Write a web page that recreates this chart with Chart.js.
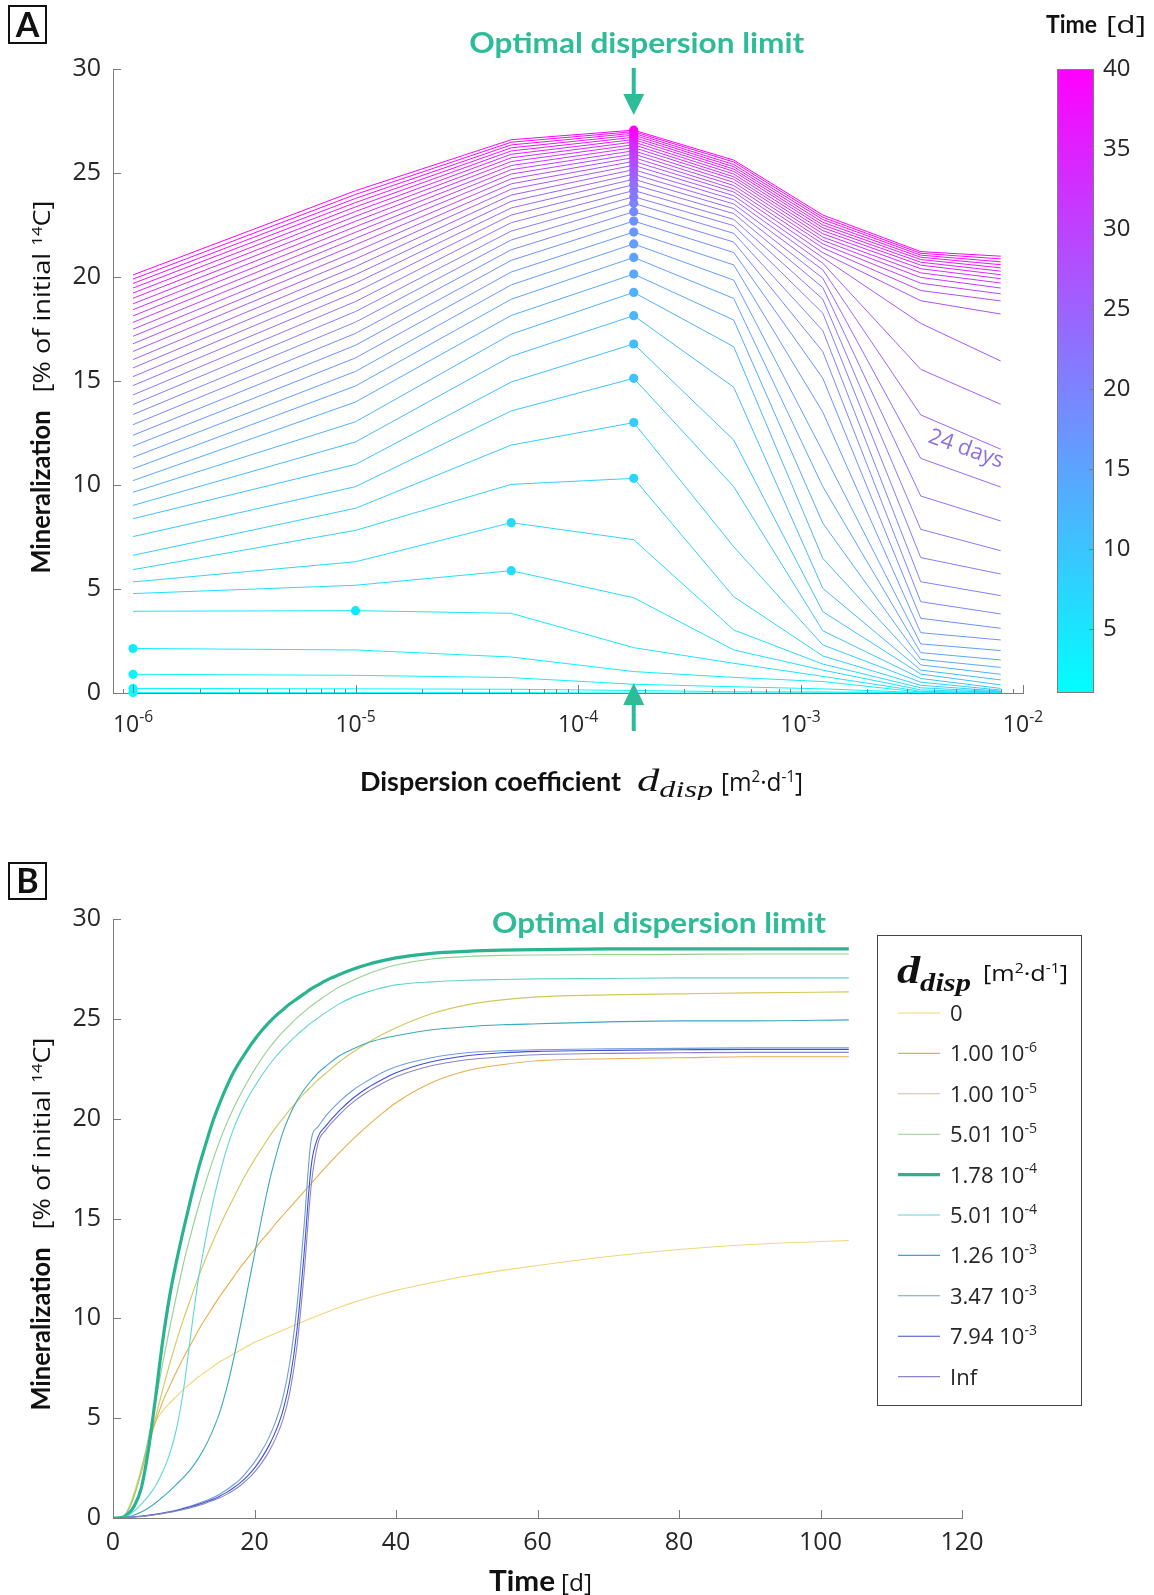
<!DOCTYPE html>
<html>
<head>
<meta charset="utf-8">
<script src="https://cdn.jsdelivr.net/npm/chart.js@4.4.1/dist/chart.umd.min.js"></script>
<style>
html,body{margin:0;padding:0;background:#ffffff;}
#wrap{position:relative;width:1154px;height:1595px;overflow:hidden;background:#fff;}
.box{position:absolute;left:0;width:1154px;}
</style>
</head>
<body>
<div id="wrap">
  <div class="box" style="top:0;height:800px"><canvas id="cA" width="1154" height="800"></canvas></div>
  <div class="box" style="top:800px;height:795px"><canvas id="cB" width="1154" height="795"></canvas></div>
</div>
<script>
// ---------------- DATA ----------------
// Panel A: dispersion coefficients (x) and days (one line per day)
const dispCoef = [1e-6, 1e-5, 5.01e-5, 1.78e-4, 5.01e-4, 1.26e-3, 3.47e-3, 7.94e-3];
const days = [1,2,3,4,5,6,7,8,9,10,11,12,13,14,15,16,17,18,19,20,21,22,23,24,25,26,27,28,29,30,31,32,33,34,35,36,37,38,39,40];
// Mineralization (% of initial 14C) per day, one array per dispersion coefficient
const minA_1e6   = [0.02,0.22,0.9,2.14,3.93,4.78,5.34,5.93,6.62,7.52,8.38,9.02,9.65,10.21,10.78,11.33,11.87,12.39,12.90,13.39,13.87,14.33,14.78,15.21,15.63,16.03,16.42,16.79,17.15,17.49,17.82,18.13,18.43,18.71,18.98,19.23,19.47,19.69,19.90,20.10];
const minA_1e5   = [0.02,0.2,0.85,2.07,3.96,5.18,6.31,7.82,8.88,9.92,10.99,12.07,13.04,13.99,14.76,15.46,16.11,16.72,17.29,17.83,18.34,18.82,19.27,19.70,20.11,20.50,20.87,21.22,21.55,21.86,22.15,22.42,22.68,22.92,23.15,23.37,23.58,23.78,23.97,24.15];
const minA_5e5   = [0.02,0.18,0.74,1.73,3.83,5.88,8.19,10.03,11.92,13.56,14.95,16.19,17.25,18.15,18.93,19.62,20.24,20.80,21.31,21.78,22.21,22.61,22.98,23.32,23.64,23.94,24.22,24.48,24.72,24.95,25.16,25.36,25.55,25.73,25.90,26.06,26.21,26.35,26.48,26.60];
const minA_178e4 = [0.0,0.12,0.42,1.03,2.18,4.58,7.37,10.32,13.0,15.13,16.78,18.14,19.26,20.14,20.94,21.59,22.16,22.69,23.14,23.54,23.86,24.16,24.44,24.70,24.94,25.16,25.37,25.56,25.74,25.91,26.07,26.22,26.36,26.49,26.61,26.72,26.82,26.91,26.99,27.06];
const minA_5e4   = [0.0,0.06,0.3,0.75,1.43,2.07,3.03,4.63,7.03,9.92,12.16,14.7,16.65,17.93,18.97,19.85,20.58,21.18,21.68,22.1,22.47,22.77,23.05,23.29,23.51,23.72,23.91,24.09,24.24,24.4,24.55,24.7,24.82,24.95,25.08,25.19,25.3,25.41,25.53,25.62];
const minA_126e3 = [0.01,0.05,0.2,0.55,0.8,1.1,1.39,1.78,2.31,2.99,3.91,5.03,6.47,8.16,9.92,11.6,13.5,15.13,16.41,17.42,18.26,18.93,19.49,19.94,20.34,20.66,20.93,21.17,21.4,21.59,21.76,21.92,22.08,22.23,22.37,22.5,22.63,22.76,22.87,22.98];
const minA_347e3 = [0,0.01,0.02,0.04,0.08,0.15,0.25,0.37,0.52,0.7,0.91,1.1,1.35,1.62,1.94,2.36,2.9,3.59,4.39,5.35,6.51,7.87,9.47,11.28,13.37,15.56,17.77,18.86,19.35,19.7,19.98,20.2,20.4,20.57,20.71,20.84,20.95,21.05,21.14,21.22];
const minA_794e3 = [0,0,0.01,0.01,0.02,0.04,0.06,0.09,0.14,0.22,0.39,0.63,0.9,1.23,1.59,2.04,2.55,3.11,3.8,4.68,5.72,6.84,8.27,9.9,11.72,13.88,15.96,18.22,18.85,19.19,19.47,19.71,19.92,20.11,20.28,20.44,20.59,20.73,20.87,21.0];
const xMajorTicksA = [1e-6, 1e-5, 1e-4, 1e-3, 1e-2];
const colorbarTicks = [5,10,15,20,25,30,35,40];

// Panel B: time (days) and mineralization curves for each dispersion coefficient
const timeB = [0,1,2,3,4,5,6,7,8,9,10,11,12,13,14,15,16,17,18,19,20,21,22,23,24,25,26,27,28,29,30,32,34,36,38,40,45,50,55,60,70,80,90,104];
const minB_0     = [0,0.02,0.35,1.3,2.5,3.8,4.8,5.35,5.75,6.1,6.45,6.75,7.05,7.3,7.55,7.8,8.0,8.2,8.4,8.6,8.8,8.95,9.1,9.25,9.4,9.55,9.7,9.85,10.0,10.14,10.28,10.55,10.8,11.02,11.22,11.4,11.78,12.12,12.4,12.65,13.1,13.45,13.7,13.9];
const minB_1e6   = [0,0.02,0.3,1.15,2.3,3.6,4.8,5.8,6.6,7.35,8.05,8.7,9.35,9.95,10.5,11.05,11.55,12.05,12.55,13.0,13.45,13.9,14.3,14.75,15.15,15.55,15.95,16.35,16.75,17.15,17.55,18.3,19.0,19.65,20.25,20.8,21.8,22.4,22.7,22.9,23.0,23.05,23.1,23.1];
const minB_1e5   = [0,0.02,0.3,1.15,2.3,3.7,5.0,6.4,7.7,8.9,10.0,11.0,12.0,12.9,13.75,14.55,15.3,16.0,16.7,17.35,17.95,18.5,19.05,19.55,20.0,20.45,20.85,21.25,21.6,21.95,22.25,22.85,23.35,23.8,24.2,24.55,25.25,25.7,25.95,26.1,26.2,26.25,26.3,26.35];
const minB_5e5   = [0,0.02,0.3,1.1,2.4,4.0,5.8,7.7,9.5,11.2,12.8,14.2,15.5,16.7,17.8,18.8,19.7,20.5,21.2,21.85,22.45,23.0,23.5,23.95,24.35,24.7,25.05,25.35,25.65,25.9,26.15,26.6,26.95,27.25,27.5,27.7,28.0,28.12,28.18,28.2,28.22,28.23,28.25,28.25];
const minB_178e4 = [0,0.01,0.15,0.6,1.5,3.4,6.0,8.8,11.1,12.9,14.5,16.0,17.4,18.6,19.75,20.7,21.55,22.3,22.9,23.45,23.95,24.4,24.8,25.15,25.45,25.75,26.0,26.25,26.5,26.7,26.9,27.22,27.5,27.72,27.9,28.05,28.28,28.38,28.44,28.47,28.5,28.5,28.5,28.5];
const minB_5e4   = [0,0.01,0.1,0.35,0.7,1.1,1.6,2.3,3.2,4.5,6.5,9.2,11.8,13.8,15.6,17.1,18.4,19.45,20.3,21.0,21.6,22.15,22.65,23.1,23.5,23.85,24.2,24.5,24.8,25.05,25.3,25.75,26.1,26.35,26.55,26.7,26.85,26.93,26.97,27.0,27.02,27.05,27.05,27.05];
const minB_126e3 = [0,0.01,0.05,0.15,0.3,0.5,0.75,1.05,1.35,1.7,2.05,2.45,2.95,3.55,4.3,5.2,6.4,7.9,9.6,11.4,13.2,15.0,16.7,18.1,19.3,20.2,20.9,21.45,21.9,22.3,22.6,23.15,23.5,23.8,24.0,24.15,24.45,24.6,24.7,24.75,24.85,24.9,24.9,24.95];
const minB_347e3 = [0,0.01,0.03,0.06,0.1,0.14,0.19,0.25,0.32,0.4,0.5,0.6,0.72,0.85,1.0,1.18,1.4,1.65,1.95,2.35,2.8,3.35,4.0,4.85,6.0,7.8,10.6,14.6,18.9,19.6,20.1,20.85,21.45,21.9,22.3,22.6,23.05,23.3,23.4,23.45,23.5,23.52,23.55,23.55];
const minB_794e3 = [0,0.01,0.03,0.05,0.09,0.13,0.18,0.24,0.3,0.38,0.47,0.56,0.67,0.79,0.92,1.08,1.27,1.5,1.77,2.1,2.5,3.0,3.6,4.35,5.35,6.9,9.4,13.2,17.6,19.1,19.6,20.4,21.05,21.55,21.95,22.3,22.85,23.15,23.3,23.37,23.42,23.45,23.47,23.47];
const minB_inf   = [0,0.01,0.02,0.05,0.08,0.12,0.17,0.22,0.28,0.35,0.43,0.52,0.62,0.73,0.86,1.0,1.17,1.38,1.63,1.93,2.3,2.75,3.3,4.0,4.9,6.3,8.6,12.2,16.6,18.8,19.4,20.2,20.85,21.35,21.75,22.1,22.65,22.95,23.1,23.2,23.27,23.3,23.32,23.32];
const legendMantissa = ['0','1.00 10','1.00 10','5.01 10','1.78 10','5.01 10','1.26 10','3.47 10','7.94 10','Inf'];
const legendExponent = ['','-6','-5','-5','-4','-4','-3','-3','-3',''];

// ---------------- STYLE ----------------
const AXIS = '#7c7c7c';
const TXT = '#262626';
const SANS = '"Open Sans", "DejaVu Sans", sans-serif';
const BOLD = 'Lato, "Open Sans", sans-serif';
const SERIF = '"Liberation Serif", "DejaVu Serif", serif';
const TEAL = '#2dbb98';
const colorsB = ['#efd77a','#e8ae4c','#d3c75c','#94cf8c','#29b38f','#5fd5d2','#3ba8bd','#6f9fd8','#4150cf','#8b83cc'];
const widthsB = [1.1,1.1,1.1,1.1,3.2,1.1,1.1,1.1,1.1,1.1];

function coolColor(day){ const f=(day-1)/39; return 'rgb('+Math.round(255*f)+','+Math.round(255*(1-f))+',255)'; }
function fontStr(style,size,family){ return ((style?style+' ':'')+size.toFixed(2)+'px '+family); }
function measureRuns(ctx, runs, size){
  let total=0;
  runs.forEach(r=>{ ctx.font=fontStr(r.style,size*(r.rel||1),r.family); r._w=ctx.measureText(r.text).width; total+=r._w; });
  return total;
}
function drawRuns(ctx, runs, size, x, y, align, color){
  const total=measureRuns(ctx,runs,size);
  let cx = align==='center' ? x-total/2 : (align==='right' ? x-total : x);
  ctx.textAlign='left'; ctx.textBaseline='alphabetic';
  runs.forEach(r=>{ ctx.font=fontStr(r.style,size*(r.rel||1),r.family); ctx.fillStyle=r.color||color||'#111'; ctx.fillText(r.text,cx,y+(r.dy||0)*size); cx+=r._w; });
  return total;
}
function drawScaled(ctx, runs, size, target, x, y, align, color){
  const w=measureRuns(ctx,runs,size);
  const sx=target/w;
  const x0 = align==='center' ? x-target/2 : (align==='right' ? x-target : x);
  ctx.save(); ctx.translate(x0,y); ctx.scale(sx,1);
  drawRuns(ctx,runs,size,0,0,'left',color);
  ctx.restore();
}
function hline(ctx,x1,y1,x2,y2){ ctx.beginPath(); ctx.moveTo(x1,y1); ctx.lineTo(x2,y2); ctx.stroke(); }

function drawYLabel(ctx, cx, cy){
  ctx.save(); ctx.translate(cx, cy); ctx.rotate(-Math.PI/2);
  const r1=[{text:'Mineralization',style:'bold',family:BOLD}];
  const r2=[{text:'[% of initial ',family:SANS},{text:'14',family:SANS,rel:0.62,dy:-0.36},{text:'C]',family:SANS}];
  const w1=163, gap=18, w2=192, start=-(w1+gap+w2)/2;
  drawScaled(ctx,r1,26,w1,start,10,'left','#111');
  drawScaled(ctx,r2,23,w2,start+w1+gap,10,'left','#111');
  ctx.restore();
}
function drawPanelLetter(ctx, letter, x, y, w, h){
  ctx.save(); ctx.strokeStyle='#111'; ctx.lineWidth=2; ctx.strokeRect(x,y,w,h);
  ctx.fillStyle='#111'; ctx.font=fontStr('bold',34,BOLD); ctx.textAlign='center'; ctx.textBaseline='alphabetic';
  ctx.fillText(letter, x+w/2, y+h/2+12); ctx.restore();
}
function unitRuns(){ return [{text:'[m',family:SANS},{text:'2',family:SANS,rel:0.62,dy:-0.38},{text:'\u00b7d',family:SANS},{text:'-1',family:SANS,rel:0.62,dy:-0.38},{text:']',family:SANS}]; }

// ---------------- PANEL A ----------------
const columnsA = [minA_1e6, minA_1e5, minA_5e5, minA_178e4, minA_5e4, minA_126e3, minA_347e3, minA_794e3];
const lineSetsA = days.map((d,i)=>({
  data: dispCoef.map((c,j)=>({x:c, y:columnsA[j][i]})),
  borderColor: coolColor(d), borderWidth: 1, pointRadius: 0, tension: 0, fill: false, order: 41-d
}));
const peakPts=[], peakCols=[];
days.forEach((d,i)=>{ let b=0; for(let j=1;j<columnsA.length;j++){ if(columnsA[j][i]>columnsA[b][i]) b=j; } peakPts.push({x:dispCoef[b], y:columnsA[b][i]}); peakCols.push(coolColor(d)); });
const dotSetA = { data: peakPts, showLine:false, pointRadius:4.6, pointHoverRadius:4.6, pointBackgroundColor:peakCols, pointBorderWidth:0, order:0, clip:false };

const annotA = {
  id:'annotA',
  afterDraw(chart){
    const ctx=chart.ctx, ca=chart.chartArea, xs=chart.scales.x, ys=chart.scales.y;
    ctx.save();
    ctx.strokeStyle=AXIS; ctx.lineWidth=1;
    ys.ticks.forEach(t=>{ const py=Math.round(ys.getPixelForValue(t.value))+0.5; hline(ctx,ca.left,py,ca.left+8,py); });
    for(let k=-7;k<=-2;k++){ for(let m=1;m<=9;m++){ const v=m*Math.pow(10,k); if(v<xs.min*0.999||v>xs.max*1.001) continue; const px=Math.round(xs.getPixelForValue(v))+0.5; hline(ctx,px,ca.bottom,px,ca.bottom-(m===1?8:4)); } }
    xs.ticks.forEach(t=>{ const px=xs.getPixelForValue(t.value); const e=Math.round(Math.log10(t.value));
      drawRuns(ctx,[{text:'10',family:SANS},{text:String(e),family:SANS,rel:0.68,dy:-0.42}],23,px,732,'center',TXT); });
    drawYLabel(ctx,40,387);
    drawScaled(ctx,[{text:'Dispersion coefficient',style:'bold',family:BOLD}],26,261,360,791,'left','#111');
    drawScaled(ctx,[{text:'d',style:'italic',family:SERIF},{text:'disp',style:'italic',family:SERIF,rel:0.72,dy:0.2}],32,76,637,791,'left','#111');
    drawScaled(ctx,unitRuns(),25,82,721,791,'left','#111');
    drawPanelLetter(ctx,'A',9,6,37,37);
    const ax=xs.getPixelForValue(1.78e-4);
    drawScaled(ctx,[{text:'Optimal dispersion limit',style:'bold',family:BOLD}],29,335,ax+3,53,'center',TEAL);
    ctx.fillStyle=TEAL;
    ctx.fillRect(ax-2,68,4,28);
    ctx.beginPath(); ctx.moveTo(ax-10.5,94); ctx.lineTo(ax+10.5,94); ctx.lineTo(ax,115); ctx.closePath(); ctx.fill();
    ctx.fillRect(ax-2,702,4,29);
    ctx.beginPath(); ctx.moveTo(ax,683); ctx.lineTo(ax-10.5,705); ctx.lineTo(ax+10.5,705); ctx.closePath(); ctx.fill();
    ctx.save(); ctx.translate(966,449); ctx.rotate(19.5*Math.PI/180);
    ctx.font=fontStr('',22,SANS); ctx.fillStyle='#8d6fe2'; ctx.textAlign='center'; ctx.textBaseline='middle';
    ctx.fillText('24 days',0,0); ctx.restore();
    const cbL=1057, cbR=1094, cbT=ca.top, cbB=ca.bottom;
    const g=ctx.createLinearGradient(0,cbB,0,cbT); g.addColorStop(0,coolColor(1)); g.addColorStop(1,coolColor(40));
    ctx.fillStyle=g; ctx.fillRect(cbL,cbT,cbR-cbL,cbB-cbT);
    ctx.strokeStyle=AXIS; ctx.lineWidth=1; ctx.strokeRect(cbL+0.5,cbT+0.5,cbR-cbL-1,cbB-cbT-1);
    ctx.font=fontStr('',24,SANS); ctx.fillStyle=TXT; ctx.textAlign='left'; ctx.textBaseline='middle';
    colorbarTicks.forEach(v=>{ const py=Math.round(cbT+(40-v)/39*(cbB-cbT))+0.5; hline(ctx,cbR-5,py,cbR,py); ctx.fillText(String(v),1103,py); });
    drawScaled(ctx,[{text:'Time',style:'bold',family:BOLD}],25,51,1046,33,'left','#111');
    drawScaled(ctx,[{text:'[d]',family:SANS}],23,40,1106,33,'left','#111');
    ctx.restore();
  }
};

new Chart(document.getElementById('cA'), {
  type:'line',
  data:{ datasets: lineSetsA.concat([dotSetA]) },
  options:{
    responsive:false, animation:false, devicePixelRatio:1, events:[],
    layout:{ padding:{ left:0, right:1154-1023, top:69, bottom:0 } },
    plugins:{ legend:{display:false}, tooltip:{enabled:false} },
    scales:{
      x:{ type:'logarithmic', min:Math.pow(10,-6.09), max:1e-2,
          afterBuildTicks:(s)=>{ s.ticks = xMajorTicksA.map(v=>({value:v, major:true})); },
          afterFit:(s)=>{ s.height = 800-693; },
          ticks:{ display:false, autoSkip:false },
          grid:{ display:false, drawTicks:false },
          border:{ display:true, color:AXIS, width:1 } },
      y:{ type:'linear', min:0, max:30,
          afterFit:(s)=>{ s.width = 113; },
          ticks:{ stepSize:5, padding:12, color:TXT, font:{ family:'"Open Sans"', size:25 } },
          grid:{ display:false, drawTicks:false },
          border:{ display:true, color:AXIS, width:1 } }
    }
  },
  plugins:[annotA]
});

// ---------------- PANEL B ----------------
const seriesB = [minB_0, minB_1e6, minB_1e5, minB_5e5, minB_178e4, minB_5e4, minB_126e3, minB_347e3, minB_794e3, minB_inf];
const setsB = seriesB.map((arr,i)=>({
  data: timeB.map((t,k)=>({x:t, y:arr[k]})),
  borderColor: colorsB[i], borderWidth: widthsB[i], pointRadius:0, fill:false,
  cubicInterpolationMode:'monotone', order: 9-i
}));

const annotB = {
  id:'annotB',
  afterDraw(chart){
    const ctx=chart.ctx, ca=chart.chartArea, xs=chart.scales.x, ys=chart.scales.y;
    ctx.save(); ctx.strokeStyle=AXIS; ctx.lineWidth=1;
    ys.ticks.forEach(t=>{ const py=Math.round(ys.getPixelForValue(t.value))+0.5; hline(ctx,ca.left,py,ca.left+8,py); });
    xs.ticks.forEach(t=>{ const px=Math.round(xs.getPixelForValue(t.value))+0.5; hline(ctx,px,ca.bottom,px,ca.bottom-8); });
    drawYLabel(ctx,40,424);
    drawScaled(ctx,[{text:'Time',style:'bold',family:BOLD}],28,66,489,791,'left','#111');
    drawScaled(ctx,[{text:'[d]',family:SANS}],24,31,561,791,'left','#111');
    drawPanelLetter(ctx,'B',9,63,37,36);
    drawScaled(ctx,[{text:'Optimal dispersion limit',style:'bold',family:BOLD}],29,334,659,133,'center',TEAL);
    const lx=877, ly=135, lw=204, lh=470;
    ctx.fillStyle='#fff'; ctx.fillRect(lx,ly,lw,lh);
    ctx.strokeStyle='#444'; ctx.lineWidth=1; ctx.strokeRect(lx+0.5,ly+0.5,lw,lh);
    drawScaled(ctx,[{text:'d',style:'italic bold',family:SERIF},{text:'disp',style:'italic bold',family:SERIF,rel:0.66,dy:0.2}],38,74,897,183,'left','#111');
    drawScaled(ctx,unitRuns(),22,85,983,181,'left','#111');
    for(let i=0;i<10;i++){
      const cy=213+40.4*i;
      ctx.strokeStyle=colorsB[i]; ctx.lineWidth=widthsB[i]; hline(ctx,898,cy,940,cy);
      const runs=[{text:legendMantissa[i],family:SANS}];
      if(legendExponent[i]) runs.push({text:legendExponent[i],family:SANS,rel:0.64,dy:-0.42});
      drawRuns(ctx,runs,22,950,cy+8,'left',TXT);
    }
    ctx.restore();
  }
};

new Chart(document.getElementById('cB'), {
  type:'line',
  data:{ datasets: setsB },
  options:{
    responsive:false, animation:false, devicePixelRatio:1, events:[],
    layout:{ padding:{ left:0, right:1154-962, top:119, bottom:0 } },
    plugins:{ legend:{display:false}, tooltip:{enabled:false} },
    scales:{
      x:{ type:'linear', min:0, max:120,
          afterFit:(s)=>{ s.height = 795-718; },
          ticks:{ stepSize:20, padding:10, color:TXT, font:{ family:'"Open Sans"', size:25 }, maxRotation:0 },
          grid:{ display:false, drawTicks:false },
          border:{ display:true, color:AXIS, width:1 } },
      y:{ type:'linear', min:0, max:30,
          afterFit:(s)=>{ s.width = 113; },
          ticks:{ stepSize:5, padding:12, color:TXT, font:{ family:'"Open Sans"', size:25 } },
          grid:{ display:false, drawTicks:false },
          border:{ display:true, color:AXIS, width:1 } }
    }
  },
  plugins:[annotB]
});
</script>
</body>
</html>
